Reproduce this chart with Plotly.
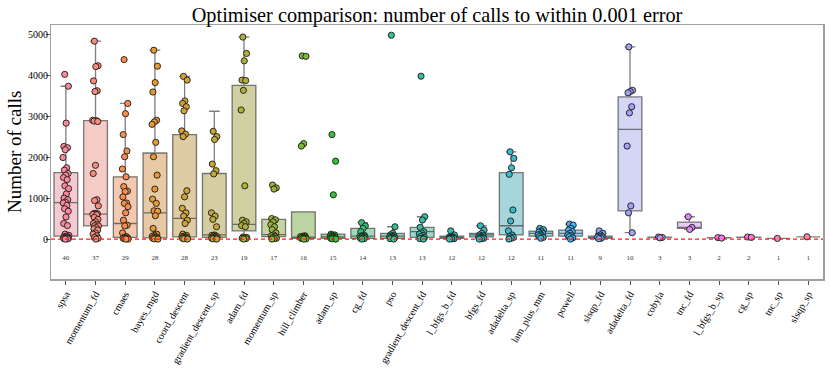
import math
import colorsys
import plotly.graph_objects as go

# ---------------- data ----------------
names = ["spsa", "momentum_fd", "cmaes", "bayes_mgd", "coord_descent", "gradient_descent_sp",
         "adam_fd", "momentum_sp", "hill_climber", "adam_sp", "cg_fd", "pso",
         "gradient_descent_fd", "l_bfgs_b_fd", "bfgs_fd", "adadelta_sp", "lam_plus_mm", "powell",
         "slsqp_fd", "adadelta_fd", "cobyla", "tnc_fd", "l_bfgs_b_sp", "cg_sp", "tnc_sp", "slsqp_sp"]

counts = [40, 37, 29, 28, 28, 23, 19, 17, 16, 15, 14, 13, 13, 12, 12, 12, 11, 11, 9, 10, 3, 3, 2, 2, 1, 1]

pts_spsa = [4020, 3730, 2830, 2260, 2230, 2180, 1990, 1740, 1680, 1600, 1560, 1500, 1450, 1300, 1230,
            1100, 1000, 960, 900, 880, 820, 740, 680, 540, 380, 330, 120, 90, 70, 60, 50, 40, 30, 30,
            20, 20, 10, 10, 5, 0]
pts_momentum_fd = [4830, 4230, 4210, 3860, 3620, 3600, 2900, 2890, 2880, 2870, 1800, 1600, 960, 940,
                   810, 630, 620, 615, 610, 600, 590, 530, 480, 420, 380, 350, 325, 320, 280, 250,
                   220, 150, 120, 80, 40, 20, 0]
pts_cmaes = [4380, 3310, 3060, 2550, 2150, 2010, 1710, 1520, 1280, 1170, 1160, 1030, 880, 870, 790,
             640, 460, 340, 320, 150, 60, 40, 30, 20, 20, 10, 10, 0, 0]
pts_bayes_mgd = [4610, 4220, 3820, 3590, 2900, 2860, 2800, 2360, 2010, 1560, 1220, 975, 870, 690,
                 680, 570, 260, 120, 90, 70, 50, 40, 30, 20, 20, 10, 5, 0]
pts_coord_descent = [3970, 3880, 3370, 3310, 3230, 3130, 2640, 2560, 2500, 1180, 1030, 750, 640,
                     560, 460, 380, 120, 90, 70, 60, 50, 40, 30, 20, 20, 10, 5, 0]
pts_gradient_descent_sp = [2630, 2500, 2430, 1830, 1670, 1590, 640, 560, 480, 300, 100, 90, 80, 70,
                           60, 50, 40, 30, 20, 20, 10, 5, 0]
pts_adam_fd = [4930, 4530, 4350, 3880, 3870, 3630, 3150, 1300, 460, 420, 380, 330, 300, 50, 40, 30,
               20, 10, 0]
pts_momentum_sp = [1320, 1250, 1220, 500, 470, 420, 350, 300, 230, 150, 100, 80, 60, 40, 20, 10, 0]
pts_hill_climber = [4470, 4460, 2330, 2270, 80, 70, 60, 50, 40, 40, 30, 20, 20, 10, 5, 0]
pts_adam_sp = [2550, 1900, 1080, 120, 100, 90, 70, 60, 50, 40, 30, 20, 10, 5, 0]
pts_cg_fd = [400, 320, 260, 180, 90, 80, 70, 60, 50, 40, 30, 20, 10, 0]
pts_pso = [4975, 300, 140, 100, 80, 70, 60, 50, 40, 30, 20, 10, 0]
pts_gradient_descent_fd = [3975, 545, 465, 285, 180, 150, 120, 90, 60, 40, 20, 10, 0]
pts_l_bfgs_b_fd = [200, 100, 60, 50, 40, 40, 30, 20, 20, 10, 5, 0]
pts_bfgs_fd = [325, 220, 140, 100, 80, 60, 50, 40, 30, 20, 10, 0]
pts_adadelta_sp = [2130, 1970, 1740, 1580, 710, 440, 200, 100, 60, 40, 20, 0]
pts_lam_plus_mm = [260, 230, 195, 170, 140, 120, 100, 80, 60, 40, 20]
pts_powell = [365, 340, 260, 220, 180, 140, 100, 80, 60, 30, 0]
pts_slsqp_fd = [200, 140, 100, 70, 60, 55, 40, 20, 10]
pts_adadelta_fd = [4690, 3630, 3600, 3570, 3230, 3080, 2270, 810, 640, 155]
pts_cobyla = [50, 40, 30]
pts_tnc_fd = [545, 285, 235]
pts_l_bfgs_b_sp = [35, 25]
pts_cg_sp = [50, 40]
pts_tnc_sp = [15]
pts_slsqp_sp = [55]

points = [pts_spsa, pts_momentum_fd, pts_cmaes, pts_bayes_mgd, pts_coord_descent,
          pts_gradient_descent_sp, pts_adam_fd, pts_momentum_sp, pts_hill_climber, pts_adam_sp,
          pts_cg_fd, pts_pso, pts_gradient_descent_fd, pts_l_bfgs_b_fd, pts_bfgs_fd,
          pts_adadelta_sp, pts_lam_plus_mm, pts_powell, pts_slsqp_fd, pts_adadelta_fd,
          pts_cobyla, pts_tnc_fd, pts_l_bfgs_b_sp, pts_cg_sp, pts_tnc_sp, pts_slsqp_sp]

# box statistics
box_q1 = [70, 320, 40, 30, 55, 40, 200, 60, 20, 15, 15, 15, 40, 15, 55, 100, 70, 70, 20, 690,
          35, 260, 27, 42, 15, 55]
box_med = [890, 610, 380, 640, 505, 100, 360, 110, 40, 55, 70, 70, 180, 40, 100, 325, 140, 140,
           55, 2675, 40, 285, 30, 45, 15, 55]
box_q3 = [1620, 2890, 1520, 2100, 2550, 1600, 3750, 480, 665, 120, 260, 140, 285, 70, 140, 1620,
          195, 220, 70, 3470, 45, 415, 32, 48, 15, 55]
box_lo = [0, 0, 0, 0, 0, 0, 0, 0, 0, 0, 0, 0, 0, 0, 0, 0, 20, 0, 10, 155, 30, 235, 25, 40, 15, 55]
box_hi = [3730, 4830, 3310, 4610, 3970, 3120, 4930, 500, 665, 120, 400, 300, 545, 100, 325, 2130,
          260, 365, 140, 4690, 50, 545, 35, 50, 15, 55]

count_label_y = -460
threshold = 0

# ---------------- HUSL palette (as seaborn) ----------------
_m = [[3.2406, -1.5372, -0.4986], [-0.9689, 1.8758, 0.0415], [0.0557, -0.2040, 1.0570]]
_refU, _refV = 0.19784, 0.46834
_lab_e, _lab_k = 0.008856, 903.3


def _max_chroma(L, H):
    hrad = math.radians(H)
    sinH, cosH = math.sin(hrad), math.cos(hrad)
    sub1 = (L + 16) ** 3 / 1560896.0
    sub2 = sub1 if sub1 > _lab_e else L / _lab_k
    res = float("inf")
    for m1, m2, m3 in _m:
        top = (0.99915 * m1 + 1.05122 * m2 + 1.14460 * m3) * sub2
        rb = 0.86330 * m3 - 0.17266 * m2
        lb = 0.12949 * m3 - 0.38848 * m1
        bottom = (rb * sinH + lb * cosH) * sub2
        for t in (0.0, 1.0):
            C = L * (top - 1.05122 * t) / (bottom + 0.17266 * sinH * t)
            if 0 < C < res:
                res = C
    return res


def _f_inv(t):
    return t ** 3 if t ** 3 > _lab_e else (116 * t - 16) / _lab_k


def _from_linear(c):
    return 12.92 * c if c <= 0.0031308 else 1.055 * c ** (1 / 2.4) - 0.055


def husl_to_rgb(h, s, l):
    C = _max_chroma(l, h) / 100.0 * s
    U, V = math.cos(math.radians(h)) * C, math.sin(math.radians(h)) * C
    L = l
    varY = _f_inv((L + 16) / 116.0)
    varU = U / (13 * L) + _refU
    varV = V / (13 * L) + _refV
    Y = varY
    X = -(9 * Y * varU) / ((varU - 4) * varV - varU * varV)
    Z = (9 * Y - 15 * varV * Y - varV * X) / (3 * varV)
    rgb = [_from_linear(r[0] * X + r[1] * Y + r[2] * Z) for r in _m]
    return [min(1, max(0, c)) for c in rgb]


def husl_palette(n, h=0.01, s=0.9, l=0.7):
    out = []
    for i in range(n):
        hue = ((i / n + h) % 1) * 359
        out.append(husl_to_rgb(hue, s * 99, l * 99))
    return out


def desat(rgb, prop):
    hh, ll, ss = colorsys.rgb_to_hls(*rgb)
    return colorsys.hls_to_rgb(hh, ll, ss * prop)


def css(rgb, a=1.0):
    return "rgba(%d,%d,%d,%.3f)" % (round(rgb[0] * 255), round(rgb[1] * 255), round(rgb[2] * 255), a)


pal = husl_palette(len(names))

# ---------------- figure ----------------
FONT = "Liberation Serif"
W, H = 830, 369
ML, MR, MT, MB = 51, 7, 25, 90
fig = go.Figure()

for i, nm in enumerate(names):
    fig.add_trace(go.Box(
        x=[i], q1=[box_q1[i]], median=[box_med[i]], q3=[box_q3[i]],
        lowerfence=[box_lo[i]], upperfence=[box_hi[i]],
        width=0.8, whiskerwidth=0.45, boxpoints=False,
        fillcolor=css(desat(pal[i], 0.75), 0.5),
        line=dict(color="rgba(40,40,40,0.6)", width=1.3),
        showlegend=False, hoverinfo="skip",
    ))

for i, vals in enumerate(points):
    n = len(vals)
    xs = [i + 0.1 * (((k * 0.6180339887 + 0.31) % 1.0) * 2 - 1) for k in range(n)]
    fig.add_trace(go.Scatter(
        x=xs, y=vals, mode="markers",
        marker=dict(size=6.2, color=css(pal[i]), line=dict(color="#1a1a1a", width=0.9)),
        showlegend=False, hoverinfo="skip",
    ))

fig.add_trace(go.Scatter(
    x=list(range(len(names))), y=[count_label_y] * len(names),
    text=[str(c) for c in counts], mode="text",
    textfont=dict(family=FONT, size=7, color="#333"),
    showlegend=False, hoverinfo="skip",
))

fig.add_shape(type="line", xref="paper", x0=0, x1=1, y0=threshold, y1=threshold,
              line=dict(color="#ff1a1a", width=1.2, dash="4px,3px"))

# y-axis title placed as a rotated annotation, centred 14px from the left edge
fig.add_annotation(text="Number of calls", xref="paper", yref="paper",
                   x=(14 - ML) / (W - ML - MR), y=0.5, xanchor="center", yanchor="middle",
                   textangle=-90, showarrow=False,
                   font=dict(family=FONT, size=19, color="black"))

fig.update_layout(
    width=W, height=H,
    margin=dict(l=ML, r=MR, t=MT, b=MB, autoexpand=False),
    paper_bgcolor="white", plot_bgcolor="white",
    font=dict(family=FONT, color="black"),
    title=dict(text="Optimiser comparison: number of calls to within 0.001 error",
               x=0.5, xref="paper", xanchor="center", y=1 - 14.5 / H, yref="container",
               yanchor="middle", automargin=False,
               font=dict(family=FONT, size=20.3, color="black")),
    boxmode="overlay",
    hovermode=False,
)
fig.update_xaxes(
    type="linear", range=[-0.5, len(names) - 0.5], automargin=False,
    tickmode="array", tickvals=list(range(len(names))), ticktext=names,
    tickangle=-60, tickfont=dict(family=FONT, size=10, color="black"),
    showline=True, linecolor="#a0a0a0", linewidth=1.5, mirror=True,
    ticks="outside", ticklen=4, tickcolor="#555", showgrid=False, zeroline=False,
)
fig.update_yaxes(
    range=[-975, 5225], tickmode="array", tickvals=[0, 1000, 2000, 3000, 4000, 5000],
    automargin=False, ticklabelstandoff=-4,
    tickfont=dict(family=FONT, size=10, color="black"),
    showline=True, linecolor="#a0a0a0", linewidth=1.5, mirror=True,
    ticks="outside", ticklen=3.5, tickcolor="#555", showgrid=False, zeroline=False,
)

# the page body otherwise adds an 8px offset around the figure
fig.write_html("out.html", config={"displayModeBar": False, "staticPlot": True},
               post_script="document.body.style.margin='0px';")
